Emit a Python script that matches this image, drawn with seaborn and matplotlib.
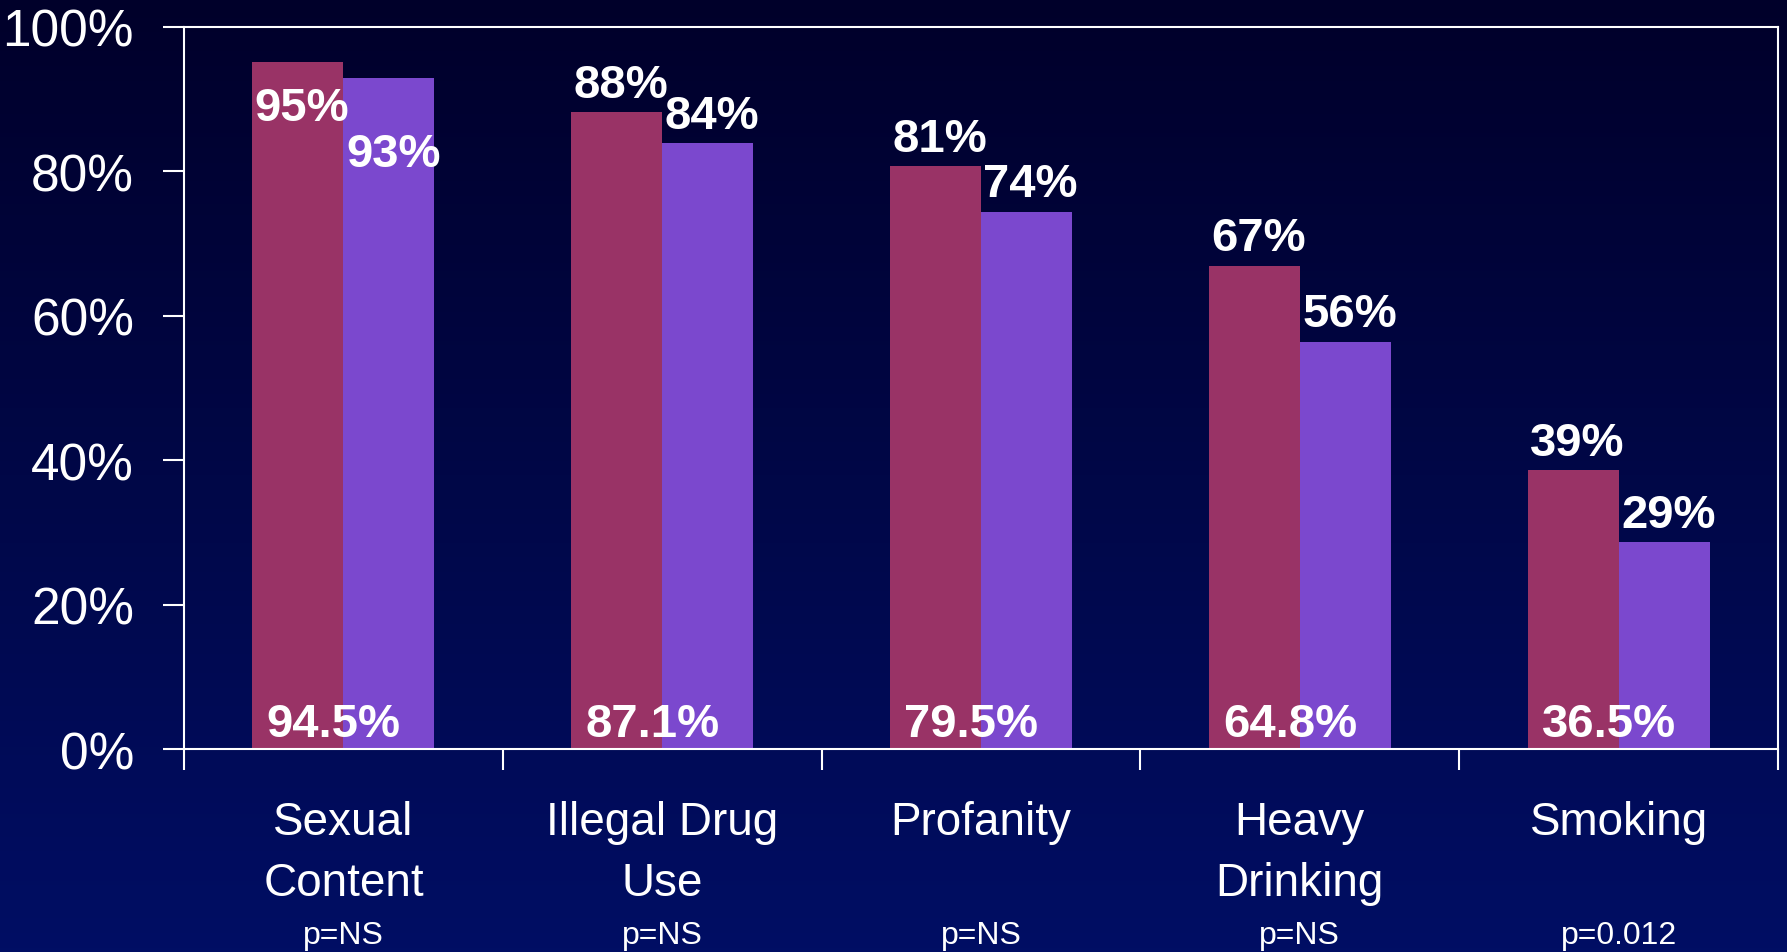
import numpy as np
import pandas as pd
import matplotlib
matplotlib.use("Agg")
import matplotlib.pyplot as plt
from matplotlib.colors import LinearSegmentedColormap
import seaborn as sns

# chart data
categories = ["Sexual\nContent", "Illegal Drug\nUse", "Profanity", "Heavy\nDrinking", "Smoking"]
p_values = ["p=NS", "p=NS", "p=NS", "p=NS", "p=0.012"]
group_a = [95.1, 88.2, 80.7, 66.9, 38.6]
group_b = [92.9, 83.9, 74.4, 56.4, 28.6]
overall = [94.5, 87.1, 79.5, 64.8, 36.5]
yticks = [0, 20, 40, 60, 80, 100]

maroon = "#993366"
purple = "#7B48CE"
white = "white"

sns.set_theme(style="white")
plt.rcParams['font.family'] = ['Liberation Sans', 'DejaVu Sans']

df = pd.DataFrame({
    "category": categories * 2,
    "value": group_a + group_b,
    "group": ["A"] * len(categories) + ["B"] * len(categories),
})

fig = plt.figure(figsize=(17.87, 9.53), dpi=100)

# vertical gradient background, dark navy to blue
bg = fig.add_axes([0, 0, 1, 1], zorder=-1)
grad_cmap = LinearSegmentedColormap.from_list("slide", ["#00002A", "#000E64"])
bg.imshow(np.linspace(0, 1, 256).reshape(-1, 1), aspect='auto', cmap=grad_cmap,
          extent=[0, 1, 0, 1])
bg.axis('off')

ax = fig.add_axes([0.103, 0.213, 0.892, 0.758])
ax.set_facecolor('none')

sns.barplot(data=df, x="category", y="value", hue="group",
            palette=[maroon, purple], width=0.571, saturation=1,
            legend=False, ax=ax, linewidth=0)

ax.set_xlim(-0.5, len(categories) - 0.5)
ax.set_ylim(0, 100)
ax.set_yticks(yticks)
ax.set_yticklabels([f"{t}%" for t in yticks], fontsize=37, color=white)
ax.tick_params(axis='y', direction='out', length=15, width=1.5, color=white, pad=21, left=True)

# labels at group centres, tick marks at group boundaries
ax.set_xticks(range(len(categories)))
ax.set_xticklabels(categories, fontsize=33, color=white)
ax.tick_params(axis='x', which='major', length=0, pad=37)
ax.set_xticks(np.arange(-0.5, len(categories)), minor=True)
ax.tick_params(axis='x', which='minor', direction='out', length=15, width=1.5,
               color=white, bottom=True)
for t in ax.get_xticklabels():
    t.set_linespacing(1.48)
    t.set_multialignment('center')

ax.set_xlabel("")
ax.set_ylabel("")
for s in ax.spines.values():
    s.set_visible(True)
    s.set_color(white)
    s.set_linewidth(1.5)

dx = 0.571 / 4
bold = dict(fontsize=34, fontweight='bold', color=white, ha='center')
for i in range(len(categories)):
    for j, vals in enumerate([group_a, group_b]):
        v = vals[i]
        x = i - dx if j == 0 else i + dx
        txt = f"{round(v)}%"
        if v > 90:
            # no room above the first pair, labels sit inside the bars
            off = -17 if j == 0 else -39
            ax.annotate(txt, (x, v), xytext=(3, off), textcoords='offset points',
                        va='top', **bold)
        else:
            ax.annotate(txt, (x, v), xytext=(3, 11), textcoords='offset points',
                        va='baseline', **bold)
    ax.annotate(f"{overall[i]}%", (i, 0), xytext=(-7, 9.5), textcoords='offset points',
                va='baseline', **bold)
    ax.annotate(p_values[i], (i, 0), xycoords=('data', 'axes fraction'),
                xytext=(0, -140), textcoords='offset points', va='baseline',
                ha='center', fontsize=23, color=white, annotation_clip=False)

fig.savefig("out.png", dpi=100)
